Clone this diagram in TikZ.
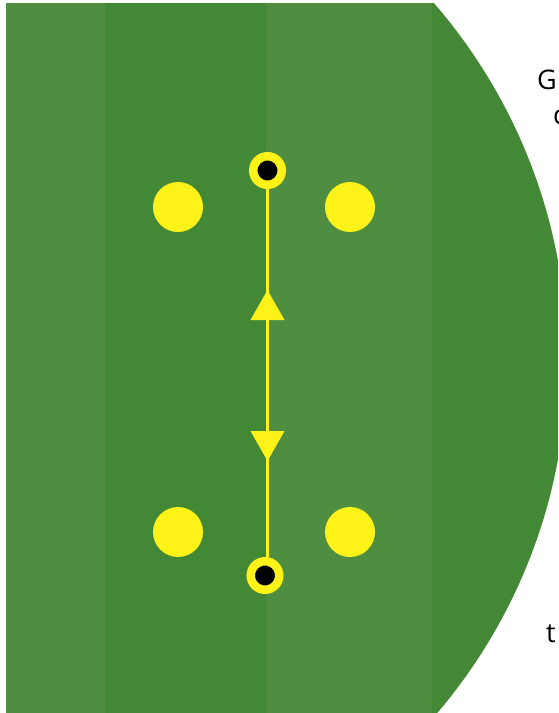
\documentclass[tikz,border=0pt]{standalone}
\usepackage{fontspec}
\setmainfont{Open Sans}
\definecolor{lightg}{RGB}{79,142,64}
\definecolor{darkg}{RGB}{67,136,52}
\definecolor{yel}{RGB}{255,242,25}
\tikzset{
  spot/.style={circle, fill=yel, inner sep=0pt, minimum size=50pt},
  ring/.style={circle, fill=black, draw=yel, line width=8.5pt, inner sep=0pt, minimum size=28.5pt},
  track/.style={draw=yel, line width=3pt},
  lbl/.style={anchor=base west, inner sep=0pt, font=\fontsize{27}{31}\selectfont, text=black}
}
\begin{document}
\begin{tikzpicture}[x=1pt,y=-1pt]
\useasboundingbox (0,0) rectangle (558,713);
\clip (0,0) rectangle (558,713);
\begin{scope}
  \clip (22,360) circle (545pt);
  \fill[lightg] (6,3) rectangle (105,713);
  \fill[darkg] (105,3) rectangle (266,713);
  \fill[lightg] (266,3) rectangle (432,713);
  \fill[darkg] (432,3) rectangle (600,713);
\end{scope}
\node[spot] (s1) at (178,207) {};
\node[spot] (s2) at (350,207) {};
\node[spot] (s3) at (178,532) {};
\node[spot] (s4) at (350,532) {};
\node[ring] (top) at (267.5,170.5) {};
\node[ring] (bot) at (265,575.5) {};
\draw[track] (top.south) -- (top.south |- bot.north);
\fill[yel] (267.5,290) -- (284.5,320) -- (250.5,320) -- cycle;
\fill[yel] (267.5,461) -- (284.5,431) -- (250.5,431) -- cycle;
\node[lbl] (g) at (537,89) {G};
\node[lbl] (c) at (553,124) {c};
\node[lbl] (t) at (546,642) {t};
\end{tikzpicture}
\end{document}
